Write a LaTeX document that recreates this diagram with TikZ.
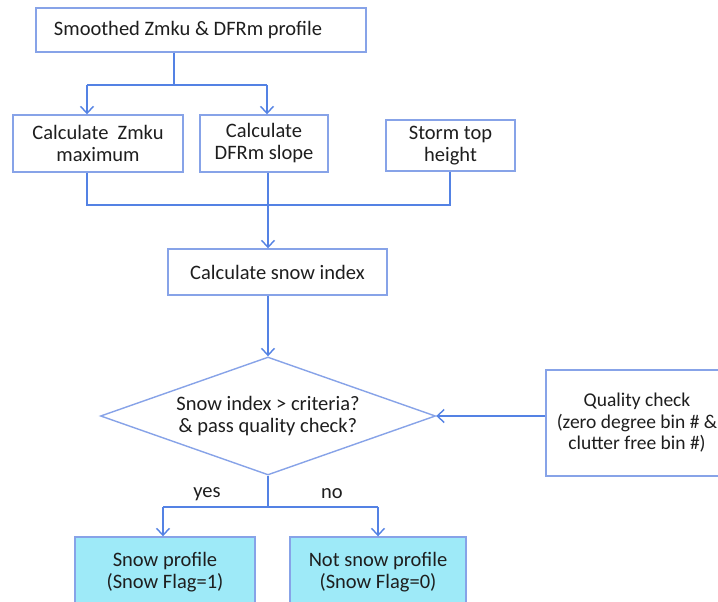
\documentclass[tikz,border=0pt]{standalone}
\usepackage{fontspec}
\setmainfont{Carlito}
\usetikzlibrary{arrows.meta,shapes.geometric}
\definecolor{lineblue}{RGB}{84,130,228}
\definecolor{boxblue}{RGB}{135,163,232}
\definecolor{txt}{RGB}{30,30,30}
\definecolor{cyanfill}{RGB}{158,234,248}
\tikzset{
  box/.style={draw=boxblue, line width=1.4pt, rectangle, inner sep=0pt, align=center, text=txt, font=\fontsize{20.5}{22}\selectfont},
  resbox/.style={box, fill=cyanfill},
  conn/.style={draw=lineblue, line width=1.4pt},
  arr/.style={conn, -{Straight Barb[length=7pt,width=13pt,line width=1.4pt]}},
  lbl/.style={text=txt, font=\fontsize{20.5}{22}\selectfont, inner sep=0pt}
}
\begin{document}
\begin{tikzpicture}[x=1pt,y=-1pt]
\clip (0,0) rectangle (718,602);
\fill[white] (0,0) rectangle (718,602);
% nodes
\node[box, minimum width=330pt, minimum height=44pt] (top) at (201,30) {Smoothed Zmku \& DFRm profile\hspace*{26pt}};
\node[box, minimum width=170pt, minimum height=57pt] (zmku) at (98,143.5) {Calculate\ \ Zmku\\maximum};
\node[box, minimum width=128pt, minimum height=57pt] (dfrm) at (264,143.5) {Calculate\\DFRm slope};
\node[box, minimum width=129pt, minimum height=51pt] (storm) at (450.5,145.5) {Storm top\\height};
\node[box, minimum width=219pt, minimum height=46pt] (sidx) at (277.5,272) {Calculate snow index};
\node[box, diamond, aspect=2.84, minimum width=335pt, minimum height=118pt] (dia) at (268,416) {Snow index > criteria?\\\& pass quality check?};
\node[box, minimum width=182pt, minimum height=106pt, font=\fontsize{19.5}{21.5}\selectfont] (qual) at (637,423) {Quality check\\(zero degree bin \# \&\\clutter free bin \#)};
\node[resbox, minimum width=180pt, minimum height=70pt] (snow) at (165,572) {Snow profile\\(Snow Flag=1)};
\node[resbox, minimum width=176pt, minimum height=70pt] (nsnow) at (378,572) {Not snow profile\\(Snow Flag=0)};
\node[lbl] (yes) at (207,494) {yes};
\node[lbl] (no) at (332,494) {no};
% junction coordinates
\coordinate (j1) at (174,85);
\coordinate (a1) at (87,85);
\coordinate (a2) at (267,85);
\coordinate (b1) at (87,205);
\coordinate (b2) at (268,205);
\coordinate (b3) at (450,205);
\coordinate (c0) at (268,507);
\coordinate (c1) at (163,507);
\coordinate (c2) at (378,507);
% connectors
\draw[conn] (top.south -| j1) -- (j1);
\draw[conn] (a1) -- (a2);
\draw[arr] (a1) -- (a1 |- zmku.north);
\draw[arr] (a2) -- (a2 |- dfrm.north);
\draw[conn] (zmku.south -| b1) -- (b1) -- (b3) -- (storm.south -| b3);
\draw[conn] (dfrm.south -| b2) -- (b2);
\draw[arr] (b2) -- (b2 |- sidx.north);
\draw[arr] (sidx.south -| dia.north) -- (dia.north);
\draw[arr] (qual.west |- dia.east) -- (dia.east);
\draw[conn] (dia.south) -- (c0);
\draw[conn] (c1) -- (c2);
\draw[arr] (c1) -- (c1 |- snow.north);
\draw[arr] (c2) -- (c2 |- nsnow.north);
\end{tikzpicture}
\end{document}
